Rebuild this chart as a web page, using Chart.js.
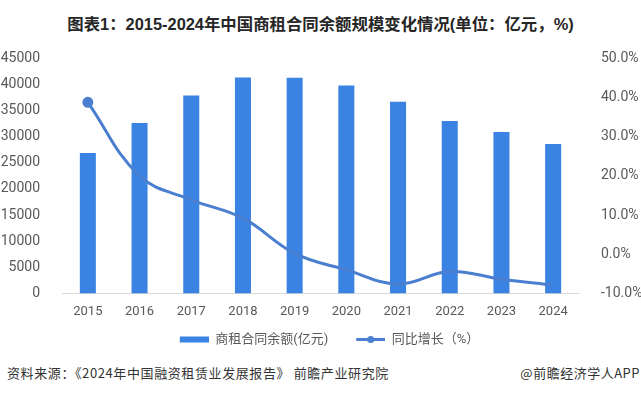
<!DOCTYPE html>
<html lang="zh">
<head>
  <meta charset="UTF-8">
  <title>商租合同余额规模变化情况</title>
  <script src="https://cdn.jsdelivr.net/npm/chart.js@4.4.1/dist/chart.umd.min.js"></script>
  <style>
    html, body {
      margin: 0;
      padding: 0;
      background: #fff;
    }
    #page {
      position: relative;
      width: 641px;
      height: 394px;
      overflow: hidden;
      font-family: Roboto, "Noto Sans CJK SC", sans-serif;
    }
    #title {
      position: absolute;
      top: 11px;
      left: 0;
      width: 641px;
      text-align: center;
      font-size: 16.4px;
      font-weight: bold;
      color: #262626;
      font-family: "Liberation Sans", "Noto Sans CJK SC", sans-serif;
    }
    #chartBox {
      position: absolute;
      top: 36px;
      left: 0;
      width: 641px;
      height: 322px;
    }
    .note {
      position: absolute;
      top: 363px;
      font-size: 13px;
      color: #333;
      font-family: "Noto Sans CJK SC", sans-serif;
    }
    #source { left: 7px; letter-spacing: 0.6px; }
    #brand { right: 1px; letter-spacing: 0.5px; }
  </style>
</head>
<body>
  <div id="page">
    <div id="title">图表1：2015-2024年中国商租合同余额规模变化情况(单位：亿元，%)</div>
    <div id="chartBox"><canvas id="chart"></canvas></div>
    <div class="note" id="source">资料来源：《2024年中国融资租赁业发展报告》 前瞻产业研究院</div>
    <div class="note" id="brand">@前瞻经济学人APP</div>
  </div>

  <script>
    const years = ['2015', '2016', '2017', '2018', '2019', '2020', '2021', '2022', '2023', '2024'];
    const balance = [26900, 32650, 37900, 41350, 41300, 39800, 36700, 33000, 30900, 28600];
    const growth = [38.8, 20.0, 13.9, 9.2, 0.2, -4.0, -7.6, -4.4, -6.4, -7.9];
    const leftTicks = [0, 5000, 10000, 15000, 20000, 25000, 30000, 35000, 40000, 45000];
    const rightTicks = [-10, 0, 10, 20, 30, 40, 50];

    const barColor = '#3a83e2';
    const lineColor = '#4a7fd0';
    const tickColor = '#595959';

    // legend swatches, 47px wide: blank on the left works as spacing between items
    const SW = 47, GAP = 18;
    function swatch(kind) {
      const c = document.createElement('canvas');
      c.width = SW; c.height = 9;
      const g = c.getContext('2d');
      if (kind === 'bar') {
        g.fillStyle = barColor;
        g.fillRect(GAP, 1.5, 29, 6);
      } else {
        g.strokeStyle = lineColor;
        g.lineWidth = 3;
        g.beginPath(); g.moveTo(GAP, 4.5); g.lineTo(GAP + 29, 4.5); g.stroke();
        g.fillStyle = lineColor;
        g.beginPath(); g.arc(GAP + 14.5, 4.5, 3.5, 0, Math.PI * 2); g.fill();
      }
      return c;
    }
    const swatches = [swatch('line'), swatch('bar')];

    new Chart(document.getElementById('chart'), {
      data: {
        labels: years,
        datasets: [
          {
            type: 'line',
            label: '同比增长（%）',
            data: growth,
            yAxisID: 'y1',
            borderColor: lineColor,
            backgroundColor: lineColor,
            borderWidth: 3,
            tension: 0.4,
            pointStyle: 'circle',
            pointRadius: growth.map((_, i) => i === 0 ? 4 : 0),
            order: 0
          },
          {
            type: 'bar',
            label: '商租合同余额(亿元)',
            data: balance,
            yAxisID: 'y',
            backgroundColor: barColor,
            categoryPercentage: 1,
            barPercentage: 0.31,
            order: 1
          }
        ]
      },
      options: {
        responsive: true,
        maintainAspectRatio: false,
        animation: false,
        layout: { padding: { top: 16, left: 0, right: 0, bottom: 2 } },
        plugins: {
          tooltip: { enabled: false },
          legend: {
            position: 'bottom',
            labels: {
              usePointStyle: true,
              pointStyleWidth: SW,
              boxHeight: 9,
              padding: 10,
              color: tickColor,
              font: { size: 13, family: 'Roboto, "Noto Sans CJK SC", sans-serif' },
              generateLabels(chart) {
                return chart.data.datasets.map((ds, i) => ({
                  text: ds.label,
                  pointStyle: swatches[i],
                  datasetIndex: i,
                  fontColor: tickColor,
                  lineWidth: 0,
                  hidden: false
                })).reverse();
              }
            }
          }
        },
        scales: {
          x: {
            grid: { display: false },
            border: { color: '#d9d9d9', width: 1 },
            ticks: { color: tickColor, font: { size: 13, family: 'Roboto' }, padding: 3 }
          },
          y: {
            position: 'left',
            min: 0,
            max: 45000,
            afterBuildTicks: axis => { axis.ticks = leftTicks.map(v => ({ value: v })); },
            afterFit: axis => { axis.width = 62; },
            grid: { display: false },
            border: { display: false },
            ticks: {
              color: tickColor,
              font: { size: 14, family: 'Roboto' },
              padding: 14,
              callback: v => String(v)
            }
          },
          y1: {
            position: 'right',
            min: -10,
            max: 50,
            afterBuildTicks: axis => { axis.ticks = rightTicks.map(v => ({ value: v })); },
            afterFit: axis => { axis.width = 62; },
            grid: { display: false },
            border: { display: false },
            ticks: {
              color: tickColor,
              font: { size: 14, family: 'Roboto' },
              padding: 14,
              callback: v => v.toFixed(1) + '%'
            }
          }
        }
      }
    });
  </script>
</body>
</html>
